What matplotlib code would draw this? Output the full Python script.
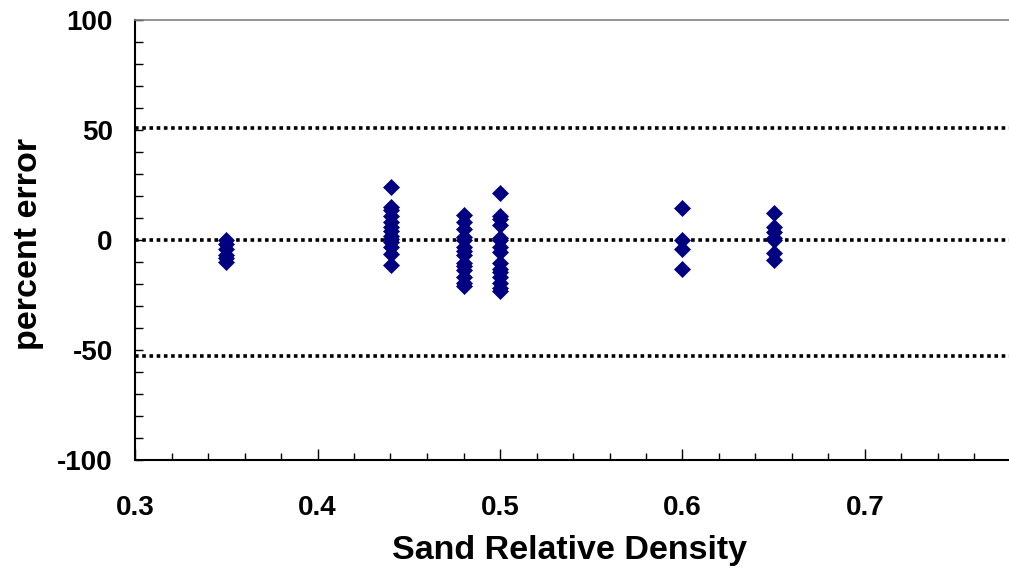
import matplotlib.pyplot as plt
from matplotlib.ticker import MultipleLocator

# percent error of each test, grouped by sand relative density
dr_035 = [0, -2, -4, -7, -8, -10]
dr_044 = [24, 15, 13.5, 11, 8, 6, 4, 2, 0.5, -1, -3, -6.5, -11.5]
dr_048 = [11.5, 8, 5, 1.5, 0, -3, -5, -7, -10.5, -12, -13.5, -17, -19.5, -21]
dr_050 = [21.5, 11, 9.5, 7, 1, 0, -3, -5.5, -10.5, -13, -14.5, -17, -19.5, -22, -23]
dr_060 = [14.5, 0, -4, -13]
dr_065 = [12.5, 6, 3.5, 1, 0, -6, -9]

groups = [(0.35, dr_035), (0.44, dr_044), (0.48, dr_048),
          (0.50, dr_050), (0.60, dr_060), (0.65, dr_065)]
density = [d for d, errs in groups for _ in errs]
error = [e for _, errs in groups for e in errs]

ref_lines = [51, 0, -52.5]
xticks = [0.3, 0.4, 0.5, 0.6, 0.7]

plt.rcParams['font.family'] = ['Liberation Sans', 'DejaVu Sans']
plt.rcParams['font.weight'] = 'bold'
plt.rcParams['axes.unicode_minus'] = False

fig = plt.figure(figsize=(10.09, 5.77), dpi=100)
ax = fig.add_axes([135 / 1009, 117 / 577, 876 / 1009, 440 / 577])

for yv in ref_lines:
    ax.axhline(yv, color='black', lw=2.6, linestyle=(0, (1, 1)), zorder=1)

ax.plot(density, error, linestyle='none', marker='D', markersize=8.6,
        color='#000080', markeredgewidth=0.5, zorder=3)

ax.set_xlim(0.3, 0.78)
ax.set_ylim(-100, 100)
ax.set_xticks(xticks)
ax.set_xticklabels([str(v) for v in xticks])
ax.xaxis.set_minor_locator(MultipleLocator(0.02))
ax.yaxis.set_major_locator(MultipleLocator(50))
ax.yaxis.set_minor_locator(MultipleLocator(10))

ax.tick_params(axis='x', which='major', direction='in', length=8, width=1,
               labelsize=20, pad=25)
ax.tick_params(axis='x', which='minor', direction='in', length=5, width=1)
ax.tick_params(axis='y', which='both', direction='in', length=6, width=1,
               labelsize=20, pad=16)

for side in ['left', 'bottom']:
    ax.spines[side].set_linewidth(1.5)
    ax.spines[side].set_color('black')
ax.spines['top'].set_color('#808080')
ax.spines['top'].set_linewidth(1.2)
ax.spines['right'].set_visible(False)

ax.set_xlabel('Sand Relative Density', fontsize=24.5, fontweight='bold')
ax.set_ylabel('percent error', fontsize=24.5, fontweight='bold')
ax.xaxis.set_label_coords((570 - 135) / 876, -0.205)
ax.yaxis.set_label_coords(-0.122, 0.49)
ax.xaxis.label.set_va('center')
ax.yaxis.label.set_va('center')

fig.savefig('out.png', dpi=100)
